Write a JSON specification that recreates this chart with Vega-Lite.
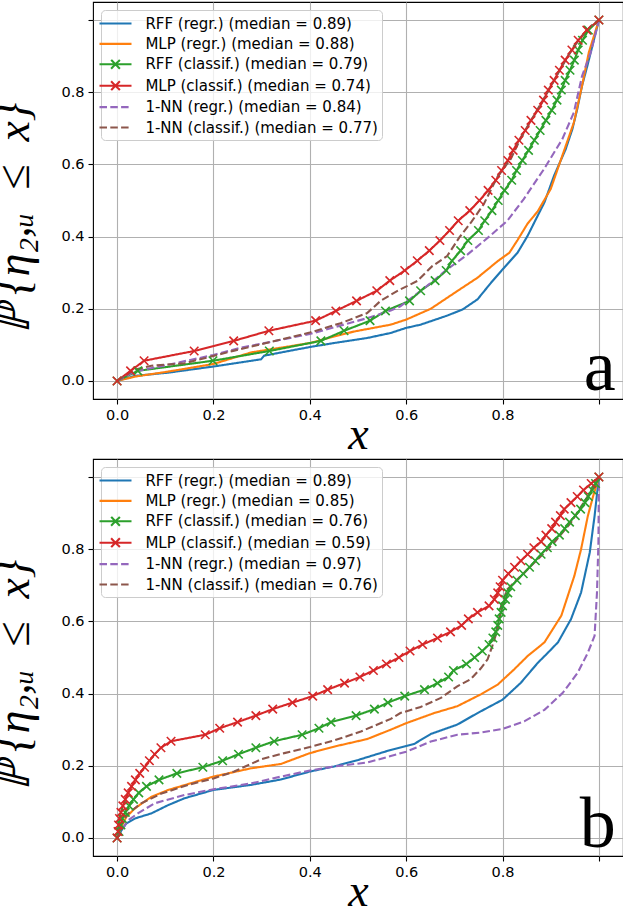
{
  "$schema": "https://vega.github.io/schema/vega-lite/v6.json",
  "background": "white",
  "padding": {"left": -9, "top": 1, "right": 2, "bottom": -7},
  "datasets": {
    "a": [
      {"s": "RFF (regr.) (median = 0.89)", "x": 0, "y": 0},
      {"s": "RFF (regr.) (median = 0.89)", "x": 0.037, "y": 0.014},
      {"s": "RFF (regr.) (median = 0.89)", "x": 0.106, "y": 0.023},
      {"s": "RFF (regr.) (median = 0.89)", "x": 0.2, "y": 0.04},
      {"s": "RFF (regr.) (median = 0.89)", "x": 0.299, "y": 0.06},
      {"s": "RFF (regr.) (median = 0.89)", "x": 0.305, "y": 0.07},
      {"s": "RFF (regr.) (median = 0.89)", "x": 0.4, "y": 0.094},
      {"s": "RFF (regr.) (median = 0.89)", "x": 0.45, "y": 0.105},
      {"s": "RFF (regr.) (median = 0.89)", "x": 0.519, "y": 0.119},
      {"s": "RFF (regr.) (median = 0.89)", "x": 0.568, "y": 0.133},
      {"s": "RFF (regr.) (median = 0.89)", "x": 0.6, "y": 0.147},
      {"s": "RFF (regr.) (median = 0.89)", "x": 0.63, "y": 0.156},
      {"s": "RFF (regr.) (median = 0.89)", "x": 0.685, "y": 0.181},
      {"s": "RFF (regr.) (median = 0.89)", "x": 0.717, "y": 0.198},
      {"s": "RFF (regr.) (median = 0.89)", "x": 0.748, "y": 0.226},
      {"s": "RFF (regr.) (median = 0.89)", "x": 0.776, "y": 0.272},
      {"s": "RFF (regr.) (median = 0.89)", "x": 0.8, "y": 0.309},
      {"s": "RFF (regr.) (median = 0.89)", "x": 0.831, "y": 0.355},
      {"s": "RFF (regr.) (median = 0.89)", "x": 0.852, "y": 0.402},
      {"s": "RFF (regr.) (median = 0.89)", "x": 0.873, "y": 0.458},
      {"s": "RFF (regr.) (median = 0.89)", "x": 0.887, "y": 0.495},
      {"s": "RFF (regr.) (median = 0.89)", "x": 0.907, "y": 0.569},
      {"s": "RFF (regr.) (median = 0.89)", "x": 0.931, "y": 0.642},
      {"s": "RFF (regr.) (median = 0.89)", "x": 0.945, "y": 0.698},
      {"s": "RFF (regr.) (median = 0.89)", "x": 0.955, "y": 0.753},
      {"s": "RFF (regr.) (median = 0.89)", "x": 0.965, "y": 0.818},
      {"s": "RFF (regr.) (median = 0.89)", "x": 0.976, "y": 0.873},
      {"s": "RFF (regr.) (median = 0.89)", "x": 0.99, "y": 0.947},
      {"s": "RFF (regr.) (median = 0.89)", "x": 1, "y": 1},
      {"s": "MLP (regr.) (median = 0.88)", "x": 0, "y": 0},
      {"s": "MLP (regr.) (median = 0.88)", "x": 0.037, "y": 0.012},
      {"s": "MLP (regr.) (median = 0.88)", "x": 0.106, "y": 0.026},
      {"s": "MLP (regr.) (median = 0.88)", "x": 0.2, "y": 0.047},
      {"s": "MLP (regr.) (median = 0.88)", "x": 0.278, "y": 0.079},
      {"s": "MLP (regr.) (median = 0.88)", "x": 0.4, "y": 0.105},
      {"s": "MLP (regr.) (median = 0.88)", "x": 0.45, "y": 0.123},
      {"s": "MLP (regr.) (median = 0.88)", "x": 0.492, "y": 0.137},
      {"s": "MLP (regr.) (median = 0.88)", "x": 0.568, "y": 0.156},
      {"s": "MLP (regr.) (median = 0.88)", "x": 0.6, "y": 0.17},
      {"s": "MLP (regr.) (median = 0.88)", "x": 0.651, "y": 0.2},
      {"s": "MLP (regr.) (median = 0.88)", "x": 0.706, "y": 0.249},
      {"s": "MLP (regr.) (median = 0.88)", "x": 0.748, "y": 0.286},
      {"s": "MLP (regr.) (median = 0.88)", "x": 0.79, "y": 0.332},
      {"s": "MLP (regr.) (median = 0.88)", "x": 0.814, "y": 0.355},
      {"s": "MLP (regr.) (median = 0.88)", "x": 0.831, "y": 0.39},
      {"s": "MLP (regr.) (median = 0.88)", "x": 0.852, "y": 0.436},
      {"s": "MLP (regr.) (median = 0.88)", "x": 0.873, "y": 0.47},
      {"s": "MLP (regr.) (median = 0.88)", "x": 0.9, "y": 0.532},
      {"s": "MLP (regr.) (median = 0.88)", "x": 0.924, "y": 0.624},
      {"s": "MLP (regr.) (median = 0.88)", "x": 0.948, "y": 0.716},
      {"s": "MLP (regr.) (median = 0.88)", "x": 0.965, "y": 0.818},
      {"s": "MLP (regr.) (median = 0.88)", "x": 0.979, "y": 0.91},
      {"s": "MLP (regr.) (median = 0.88)", "x": 1, "y": 1},
      {"s": "RFF (classif.) (median = 0.79)", "x": 0, "y": 0},
      {"s": "RFF (classif.) (median = 0.79)", "x": 0.043, "y": 0.028},
      {"s": "RFF (classif.) (median = 0.79)", "x": 0.199, "y": 0.056},
      {"s": "RFF (classif.) (median = 0.79)", "x": 0.316, "y": 0.083},
      {"s": "RFF (classif.) (median = 0.79)", "x": 0.423, "y": 0.111},
      {"s": "RFF (classif.) (median = 0.79)", "x": 0.471, "y": 0.139},
      {"s": "RFF (classif.) (median = 0.79)", "x": 0.525, "y": 0.167},
      {"s": "RFF (classif.) (median = 0.79)", "x": 0.557, "y": 0.194},
      {"s": "RFF (classif.) (median = 0.79)", "x": 0.607, "y": 0.222},
      {"s": "RFF (classif.) (median = 0.79)", "x": 0.63, "y": 0.25},
      {"s": "RFF (classif.) (median = 0.79)", "x": 0.66, "y": 0.278},
      {"s": "RFF (classif.) (median = 0.79)", "x": 0.683, "y": 0.306},
      {"s": "RFF (classif.) (median = 0.79)", "x": 0.695, "y": 0.333},
      {"s": "RFF (classif.) (median = 0.79)", "x": 0.713, "y": 0.361},
      {"s": "RFF (classif.) (median = 0.79)", "x": 0.728, "y": 0.389},
      {"s": "RFF (classif.) (median = 0.79)", "x": 0.75, "y": 0.417},
      {"s": "RFF (classif.) (median = 0.79)", "x": 0.763, "y": 0.444},
      {"s": "RFF (classif.) (median = 0.79)", "x": 0.778, "y": 0.472},
      {"s": "RFF (classif.) (median = 0.79)", "x": 0.791, "y": 0.5},
      {"s": "RFF (classif.) (median = 0.79)", "x": 0.804, "y": 0.528},
      {"s": "RFF (classif.) (median = 0.79)", "x": 0.819, "y": 0.556},
      {"s": "RFF (classif.) (median = 0.79)", "x": 0.829, "y": 0.583},
      {"s": "RFF (classif.) (median = 0.79)", "x": 0.841, "y": 0.611},
      {"s": "RFF (classif.) (median = 0.79)", "x": 0.854, "y": 0.639},
      {"s": "RFF (classif.) (median = 0.79)", "x": 0.866, "y": 0.667},
      {"s": "RFF (classif.) (median = 0.79)", "x": 0.878, "y": 0.694},
      {"s": "RFF (classif.) (median = 0.79)", "x": 0.89, "y": 0.722},
      {"s": "RFF (classif.) (median = 0.79)", "x": 0.902, "y": 0.75},
      {"s": "RFF (classif.) (median = 0.79)", "x": 0.913, "y": 0.778},
      {"s": "RFF (classif.) (median = 0.79)", "x": 0.922, "y": 0.806},
      {"s": "RFF (classif.) (median = 0.79)", "x": 0.93, "y": 0.833},
      {"s": "RFF (classif.) (median = 0.79)", "x": 0.94, "y": 0.861},
      {"s": "RFF (classif.) (median = 0.79)", "x": 0.949, "y": 0.889},
      {"s": "RFF (classif.) (median = 0.79)", "x": 0.957, "y": 0.917},
      {"s": "RFF (classif.) (median = 0.79)", "x": 0.966, "y": 0.944},
      {"s": "RFF (classif.) (median = 0.79)", "x": 0.978, "y": 0.972},
      {"s": "RFF (classif.) (median = 0.79)", "x": 1, "y": 1},
      {"s": "MLP (classif.) (median = 0.74)", "x": 0, "y": 0},
      {"s": "MLP (classif.) (median = 0.74)", "x": 0.028, "y": 0.028},
      {"s": "MLP (classif.) (median = 0.74)", "x": 0.056, "y": 0.056},
      {"s": "MLP (classif.) (median = 0.74)", "x": 0.16, "y": 0.083},
      {"s": "MLP (classif.) (median = 0.74)", "x": 0.242, "y": 0.111},
      {"s": "MLP (classif.) (median = 0.74)", "x": 0.315, "y": 0.139},
      {"s": "MLP (classif.) (median = 0.74)", "x": 0.412, "y": 0.167},
      {"s": "MLP (classif.) (median = 0.74)", "x": 0.454, "y": 0.194},
      {"s": "MLP (classif.) (median = 0.74)", "x": 0.497, "y": 0.222},
      {"s": "MLP (classif.) (median = 0.74)", "x": 0.539, "y": 0.25},
      {"s": "MLP (classif.) (median = 0.74)", "x": 0.566, "y": 0.278},
      {"s": "MLP (classif.) (median = 0.74)", "x": 0.597, "y": 0.306},
      {"s": "MLP (classif.) (median = 0.74)", "x": 0.623, "y": 0.333},
      {"s": "MLP (classif.) (median = 0.74)", "x": 0.648, "y": 0.361},
      {"s": "MLP (classif.) (median = 0.74)", "x": 0.67, "y": 0.389},
      {"s": "MLP (classif.) (median = 0.74)", "x": 0.69, "y": 0.417},
      {"s": "MLP (classif.) (median = 0.74)", "x": 0.708, "y": 0.444},
      {"s": "MLP (classif.) (median = 0.74)", "x": 0.732, "y": 0.472},
      {"s": "MLP (classif.) (median = 0.74)", "x": 0.752, "y": 0.5},
      {"s": "MLP (classif.) (median = 0.74)", "x": 0.77, "y": 0.528},
      {"s": "MLP (classif.) (median = 0.74)", "x": 0.786, "y": 0.556},
      {"s": "MLP (classif.) (median = 0.74)", "x": 0.798, "y": 0.583},
      {"s": "MLP (classif.) (median = 0.74)", "x": 0.811, "y": 0.611},
      {"s": "MLP (classif.) (median = 0.74)", "x": 0.822, "y": 0.639},
      {"s": "MLP (classif.) (median = 0.74)", "x": 0.834, "y": 0.667},
      {"s": "MLP (classif.) (median = 0.74)", "x": 0.847, "y": 0.694},
      {"s": "MLP (classif.) (median = 0.74)", "x": 0.859, "y": 0.722},
      {"s": "MLP (classif.) (median = 0.74)", "x": 0.873, "y": 0.75},
      {"s": "MLP (classif.) (median = 0.74)", "x": 0.885, "y": 0.778},
      {"s": "MLP (classif.) (median = 0.74)", "x": 0.895, "y": 0.806},
      {"s": "MLP (classif.) (median = 0.74)", "x": 0.907, "y": 0.833},
      {"s": "MLP (classif.) (median = 0.74)", "x": 0.918, "y": 0.861},
      {"s": "MLP (classif.) (median = 0.74)", "x": 0.93, "y": 0.889},
      {"s": "MLP (classif.) (median = 0.74)", "x": 0.944, "y": 0.917},
      {"s": "MLP (classif.) (median = 0.74)", "x": 0.957, "y": 0.944},
      {"s": "MLP (classif.) (median = 0.74)", "x": 0.975, "y": 0.972},
      {"s": "MLP (classif.) (median = 0.74)", "x": 1, "y": 1},
      {"s": "1-NN (regr.) (median = 0.84)", "x": 0, "y": 0},
      {"s": "1-NN (regr.) (median = 0.84)", "x": 0.037, "y": 0.026},
      {"s": "1-NN (regr.) (median = 0.84)", "x": 0.106, "y": 0.045},
      {"s": "1-NN (regr.) (median = 0.84)", "x": 0.2, "y": 0.072},
      {"s": "1-NN (regr.) (median = 0.84)", "x": 0.257, "y": 0.092},
      {"s": "1-NN (regr.) (median = 0.84)", "x": 0.4, "y": 0.13},
      {"s": "1-NN (regr.) (median = 0.84)", "x": 0.519, "y": 0.174},
      {"s": "1-NN (regr.) (median = 0.84)", "x": 0.568, "y": 0.195},
      {"s": "1-NN (regr.) (median = 0.84)", "x": 0.588, "y": 0.207},
      {"s": "1-NN (regr.) (median = 0.84)", "x": 0.63, "y": 0.249},
      {"s": "1-NN (regr.) (median = 0.84)", "x": 0.685, "y": 0.309},
      {"s": "1-NN (regr.) (median = 0.84)", "x": 0.727, "y": 0.35},
      {"s": "1-NN (regr.) (median = 0.84)", "x": 0.775, "y": 0.403},
      {"s": "1-NN (regr.) (median = 0.84)", "x": 0.81, "y": 0.444},
      {"s": "1-NN (regr.) (median = 0.84)", "x": 0.844, "y": 0.504},
      {"s": "1-NN (regr.) (median = 0.84)", "x": 0.886, "y": 0.587},
      {"s": "1-NN (regr.) (median = 0.84)", "x": 0.924, "y": 0.67},
      {"s": "1-NN (regr.) (median = 0.84)", "x": 0.948, "y": 0.744},
      {"s": "1-NN (regr.) (median = 0.84)", "x": 0.965, "y": 0.845},
      {"s": "1-NN (regr.) (median = 0.84)", "x": 0.983, "y": 0.91},
      {"s": "1-NN (regr.) (median = 0.84)", "x": 1, "y": 1},
      {"s": "1-NN (classif.) (median = 0.77)", "x": 0, "y": 0},
      {"s": "1-NN (classif.) (median = 0.77)", "x": 0.037, "y": 0.031},
      {"s": "1-NN (classif.) (median = 0.77)", "x": 0.071, "y": 0.042},
      {"s": "1-NN (classif.) (median = 0.77)", "x": 0.14, "y": 0.049},
      {"s": "1-NN (classif.) (median = 0.77)", "x": 0.243, "y": 0.084},
      {"s": "1-NN (classif.) (median = 0.77)", "x": 0.4, "y": 0.134},
      {"s": "1-NN (classif.) (median = 0.77)", "x": 0.464, "y": 0.16},
      {"s": "1-NN (classif.) (median = 0.77)", "x": 0.519, "y": 0.188},
      {"s": "1-NN (classif.) (median = 0.77)", "x": 0.547, "y": 0.222},
      {"s": "1-NN (classif.) (median = 0.77)", "x": 0.581, "y": 0.249},
      {"s": "1-NN (classif.) (median = 0.77)", "x": 0.623, "y": 0.277},
      {"s": "1-NN (classif.) (median = 0.77)", "x": 0.654, "y": 0.318},
      {"s": "1-NN (classif.) (median = 0.77)", "x": 0.685, "y": 0.346},
      {"s": "1-NN (classif.) (median = 0.77)", "x": 0.71, "y": 0.397},
      {"s": "1-NN (classif.) (median = 0.77)", "x": 0.735, "y": 0.44},
      {"s": "1-NN (classif.) (median = 0.77)", "x": 0.761, "y": 0.49},
      {"s": "1-NN (classif.) (median = 0.77)", "x": 0.789, "y": 0.565},
      {"s": "1-NN (classif.) (median = 0.77)", "x": 0.817, "y": 0.615},
      {"s": "1-NN (classif.) (median = 0.77)", "x": 0.837, "y": 0.67},
      {"s": "1-NN (classif.) (median = 0.77)", "x": 0.865, "y": 0.735},
      {"s": "1-NN (classif.) (median = 0.77)", "x": 0.893, "y": 0.799},
      {"s": "1-NN (classif.) (median = 0.77)", "x": 0.92, "y": 0.864},
      {"s": "1-NN (classif.) (median = 0.77)", "x": 0.948, "y": 0.928},
      {"s": "1-NN (classif.) (median = 0.77)", "x": 0.983, "y": 0.983},
      {"s": "1-NN (classif.) (median = 0.77)", "x": 1, "y": 1}
    ],
    "b": [
      {"s": "RFF (regr.) (median = 0.89)", "x": 0, "y": 0},
      {"s": "RFF (regr.) (median = 0.89)", "x": 0.009, "y": 0.021},
      {"s": "RFF (regr.) (median = 0.89)", "x": 0.019, "y": 0.04},
      {"s": "RFF (regr.) (median = 0.89)", "x": 0.037, "y": 0.054},
      {"s": "RFF (regr.) (median = 0.89)", "x": 0.071, "y": 0.068},
      {"s": "RFF (regr.) (median = 0.89)", "x": 0.106, "y": 0.091},
      {"s": "RFF (regr.) (median = 0.89)", "x": 0.14, "y": 0.11},
      {"s": "RFF (regr.) (median = 0.89)", "x": 0.2, "y": 0.133},
      {"s": "RFF (regr.) (median = 0.89)", "x": 0.278, "y": 0.147},
      {"s": "RFF (regr.) (median = 0.89)", "x": 0.34, "y": 0.162},
      {"s": "RFF (regr.) (median = 0.89)", "x": 0.4, "y": 0.184},
      {"s": "RFF (regr.) (median = 0.89)", "x": 0.45, "y": 0.198},
      {"s": "RFF (regr.) (median = 0.89)", "x": 0.5, "y": 0.216},
      {"s": "RFF (regr.) (median = 0.89)", "x": 0.568, "y": 0.244},
      {"s": "RFF (regr.) (median = 0.89)", "x": 0.6, "y": 0.255},
      {"s": "RFF (regr.) (median = 0.89)", "x": 0.616, "y": 0.26},
      {"s": "RFF (regr.) (median = 0.89)", "x": 0.651, "y": 0.288},
      {"s": "RFF (regr.) (median = 0.89)", "x": 0.706, "y": 0.314},
      {"s": "RFF (regr.) (median = 0.89)", "x": 0.748, "y": 0.346},
      {"s": "RFF (regr.) (median = 0.89)", "x": 0.8, "y": 0.383},
      {"s": "RFF (regr.) (median = 0.89)", "x": 0.838, "y": 0.43},
      {"s": "RFF (regr.) (median = 0.89)", "x": 0.873, "y": 0.485},
      {"s": "RFF (regr.) (median = 0.89)", "x": 0.894, "y": 0.513},
      {"s": "RFF (regr.) (median = 0.89)", "x": 0.915, "y": 0.542},
      {"s": "RFF (regr.) (median = 0.89)", "x": 0.942, "y": 0.606},
      {"s": "RFF (regr.) (median = 0.89)", "x": 0.963, "y": 0.68},
      {"s": "RFF (regr.) (median = 0.89)", "x": 0.981, "y": 0.791},
      {"s": "RFF (regr.) (median = 0.89)", "x": 0.991, "y": 0.892},
      {"s": "RFF (regr.) (median = 0.89)", "x": 1, "y": 1},
      {"s": "MLP (regr.) (median = 0.85)", "x": 0, "y": 0},
      {"s": "MLP (regr.) (median = 0.85)", "x": 0.009, "y": 0.031},
      {"s": "MLP (regr.) (median = 0.85)", "x": 0.019, "y": 0.058},
      {"s": "MLP (regr.) (median = 0.85)", "x": 0.037, "y": 0.082},
      {"s": "MLP (regr.) (median = 0.85)", "x": 0.071, "y": 0.114},
      {"s": "MLP (regr.) (median = 0.85)", "x": 0.106, "y": 0.133},
      {"s": "MLP (regr.) (median = 0.85)", "x": 0.2, "y": 0.17},
      {"s": "MLP (regr.) (median = 0.85)", "x": 0.278, "y": 0.193},
      {"s": "MLP (regr.) (median = 0.85)", "x": 0.34, "y": 0.205},
      {"s": "MLP (regr.) (median = 0.85)", "x": 0.4, "y": 0.235},
      {"s": "MLP (regr.) (median = 0.85)", "x": 0.45, "y": 0.253},
      {"s": "MLP (regr.) (median = 0.85)", "x": 0.519, "y": 0.274},
      {"s": "MLP (regr.) (median = 0.85)", "x": 0.568, "y": 0.3},
      {"s": "MLP (regr.) (median = 0.85)", "x": 0.6, "y": 0.318},
      {"s": "MLP (regr.) (median = 0.85)", "x": 0.658, "y": 0.346},
      {"s": "MLP (regr.) (median = 0.85)", "x": 0.706, "y": 0.365},
      {"s": "MLP (regr.) (median = 0.85)", "x": 0.755, "y": 0.398},
      {"s": "MLP (regr.) (median = 0.85)", "x": 0.79, "y": 0.425},
      {"s": "MLP (regr.) (median = 0.85)", "x": 0.824, "y": 0.467},
      {"s": "MLP (regr.) (median = 0.85)", "x": 0.852, "y": 0.504},
      {"s": "MLP (regr.) (median = 0.85)", "x": 0.887, "y": 0.542},
      {"s": "MLP (regr.) (median = 0.85)", "x": 0.922, "y": 0.616},
      {"s": "MLP (regr.) (median = 0.85)", "x": 0.949, "y": 0.726},
      {"s": "MLP (regr.) (median = 0.85)", "x": 0.963, "y": 0.8},
      {"s": "MLP (regr.) (median = 0.85)", "x": 0.977, "y": 0.892},
      {"s": "MLP (regr.) (median = 0.85)", "x": 0.988, "y": 0.947},
      {"s": "MLP (regr.) (median = 0.85)", "x": 1, "y": 1},
      {"s": "RFF (classif.) (median = 0.76)", "x": 0, "y": 0},
      {"s": "RFF (classif.) (median = 0.76)", "x": 0.004, "y": 0.018},
      {"s": "RFF (classif.) (median = 0.76)", "x": 0.008, "y": 0.036},
      {"s": "RFF (classif.) (median = 0.76)", "x": 0.011, "y": 0.054},
      {"s": "RFF (classif.) (median = 0.76)", "x": 0.017, "y": 0.071},
      {"s": "RFF (classif.) (median = 0.76)", "x": 0.025, "y": 0.089},
      {"s": "RFF (classif.) (median = 0.76)", "x": 0.034, "y": 0.107},
      {"s": "RFF (classif.) (median = 0.76)", "x": 0.045, "y": 0.125},
      {"s": "RFF (classif.) (median = 0.76)", "x": 0.061, "y": 0.143},
      {"s": "RFF (classif.) (median = 0.76)", "x": 0.087, "y": 0.161},
      {"s": "RFF (classif.) (median = 0.76)", "x": 0.124, "y": 0.179},
      {"s": "RFF (classif.) (median = 0.76)", "x": 0.178, "y": 0.196},
      {"s": "RFF (classif.) (median = 0.76)", "x": 0.219, "y": 0.214},
      {"s": "RFF (classif.) (median = 0.76)", "x": 0.252, "y": 0.232},
      {"s": "RFF (classif.) (median = 0.76)", "x": 0.288, "y": 0.25},
      {"s": "RFF (classif.) (median = 0.76)", "x": 0.326, "y": 0.268},
      {"s": "RFF (classif.) (median = 0.76)", "x": 0.384, "y": 0.286},
      {"s": "RFF (classif.) (median = 0.76)", "x": 0.419, "y": 0.304},
      {"s": "RFF (classif.) (median = 0.76)", "x": 0.444, "y": 0.321},
      {"s": "RFF (classif.) (median = 0.76)", "x": 0.496, "y": 0.339},
      {"s": "RFF (classif.) (median = 0.76)", "x": 0.534, "y": 0.357},
      {"s": "RFF (classif.) (median = 0.76)", "x": 0.562, "y": 0.375},
      {"s": "RFF (classif.) (median = 0.76)", "x": 0.597, "y": 0.393},
      {"s": "RFF (classif.) (median = 0.76)", "x": 0.638, "y": 0.411},
      {"s": "RFF (classif.) (median = 0.76)", "x": 0.665, "y": 0.429},
      {"s": "RFF (classif.) (median = 0.76)", "x": 0.688, "y": 0.446},
      {"s": "RFF (classif.) (median = 0.76)", "x": 0.698, "y": 0.464},
      {"s": "RFF (classif.) (median = 0.76)", "x": 0.725, "y": 0.482},
      {"s": "RFF (classif.) (median = 0.76)", "x": 0.742, "y": 0.5},
      {"s": "RFF (classif.) (median = 0.76)", "x": 0.758, "y": 0.518},
      {"s": "RFF (classif.) (median = 0.76)", "x": 0.772, "y": 0.536},
      {"s": "RFF (classif.) (median = 0.76)", "x": 0.78, "y": 0.554},
      {"s": "RFF (classif.) (median = 0.76)", "x": 0.786, "y": 0.571},
      {"s": "RFF (classif.) (median = 0.76)", "x": 0.79, "y": 0.589},
      {"s": "RFF (classif.) (median = 0.76)", "x": 0.793, "y": 0.607},
      {"s": "RFF (classif.) (median = 0.76)", "x": 0.797, "y": 0.625},
      {"s": "RFF (classif.) (median = 0.76)", "x": 0.8, "y": 0.643},
      {"s": "RFF (classif.) (median = 0.76)", "x": 0.806, "y": 0.661},
      {"s": "RFF (classif.) (median = 0.76)", "x": 0.811, "y": 0.679},
      {"s": "RFF (classif.) (median = 0.76)", "x": 0.817, "y": 0.696},
      {"s": "RFF (classif.) (median = 0.76)", "x": 0.83, "y": 0.714},
      {"s": "RFF (classif.) (median = 0.76)", "x": 0.843, "y": 0.732},
      {"s": "RFF (classif.) (median = 0.76)", "x": 0.856, "y": 0.75},
      {"s": "RFF (classif.) (median = 0.76)", "x": 0.868, "y": 0.768},
      {"s": "RFF (classif.) (median = 0.76)", "x": 0.88, "y": 0.786},
      {"s": "RFF (classif.) (median = 0.76)", "x": 0.893, "y": 0.804},
      {"s": "RFF (classif.) (median = 0.76)", "x": 0.903, "y": 0.821},
      {"s": "RFF (classif.) (median = 0.76)", "x": 0.918, "y": 0.839},
      {"s": "RFF (classif.) (median = 0.76)", "x": 0.929, "y": 0.857},
      {"s": "RFF (classif.) (median = 0.76)", "x": 0.939, "y": 0.875},
      {"s": "RFF (classif.) (median = 0.76)", "x": 0.951, "y": 0.893},
      {"s": "RFF (classif.) (median = 0.76)", "x": 0.962, "y": 0.911},
      {"s": "RFF (classif.) (median = 0.76)", "x": 0.971, "y": 0.929},
      {"s": "RFF (classif.) (median = 0.76)", "x": 0.978, "y": 0.946},
      {"s": "RFF (classif.) (median = 0.76)", "x": 0.986, "y": 0.964},
      {"s": "RFF (classif.) (median = 0.76)", "x": 0.993, "y": 0.982},
      {"s": "RFF (classif.) (median = 0.76)", "x": 1, "y": 1},
      {"s": "MLP (classif.) (median = 0.59)", "x": 0, "y": 0},
      {"s": "MLP (classif.) (median = 0.59)", "x": 0.002, "y": 0.018},
      {"s": "MLP (classif.) (median = 0.59)", "x": 0.003, "y": 0.036},
      {"s": "MLP (classif.) (median = 0.59)", "x": 0.005, "y": 0.054},
      {"s": "MLP (classif.) (median = 0.59)", "x": 0.008, "y": 0.071},
      {"s": "MLP (classif.) (median = 0.59)", "x": 0.012, "y": 0.089},
      {"s": "MLP (classif.) (median = 0.59)", "x": 0.017, "y": 0.107},
      {"s": "MLP (classif.) (median = 0.59)", "x": 0.023, "y": 0.125},
      {"s": "MLP (classif.) (median = 0.59)", "x": 0.03, "y": 0.143},
      {"s": "MLP (classif.) (median = 0.59)", "x": 0.038, "y": 0.161},
      {"s": "MLP (classif.) (median = 0.59)", "x": 0.047, "y": 0.179},
      {"s": "MLP (classif.) (median = 0.59)", "x": 0.057, "y": 0.196},
      {"s": "MLP (classif.) (median = 0.59)", "x": 0.067, "y": 0.214},
      {"s": "MLP (classif.) (median = 0.59)", "x": 0.078, "y": 0.232},
      {"s": "MLP (classif.) (median = 0.59)", "x": 0.091, "y": 0.25},
      {"s": "MLP (classif.) (median = 0.59)", "x": 0.112, "y": 0.268},
      {"s": "MLP (classif.) (median = 0.59)", "x": 0.183, "y": 0.286},
      {"s": "MLP (classif.) (median = 0.59)", "x": 0.213, "y": 0.304},
      {"s": "MLP (classif.) (median = 0.59)", "x": 0.25, "y": 0.321},
      {"s": "MLP (classif.) (median = 0.59)", "x": 0.288, "y": 0.339},
      {"s": "MLP (classif.) (median = 0.59)", "x": 0.323, "y": 0.357},
      {"s": "MLP (classif.) (median = 0.59)", "x": 0.364, "y": 0.375},
      {"s": "MLP (classif.) (median = 0.59)", "x": 0.406, "y": 0.393},
      {"s": "MLP (classif.) (median = 0.59)", "x": 0.437, "y": 0.411},
      {"s": "MLP (classif.) (median = 0.59)", "x": 0.472, "y": 0.429},
      {"s": "MLP (classif.) (median = 0.59)", "x": 0.504, "y": 0.446},
      {"s": "MLP (classif.) (median = 0.59)", "x": 0.532, "y": 0.464},
      {"s": "MLP (classif.) (median = 0.59)", "x": 0.559, "y": 0.482},
      {"s": "MLP (classif.) (median = 0.59)", "x": 0.585, "y": 0.5},
      {"s": "MLP (classif.) (median = 0.59)", "x": 0.608, "y": 0.518},
      {"s": "MLP (classif.) (median = 0.59)", "x": 0.634, "y": 0.536},
      {"s": "MLP (classif.) (median = 0.59)", "x": 0.665, "y": 0.554},
      {"s": "MLP (classif.) (median = 0.59)", "x": 0.692, "y": 0.571},
      {"s": "MLP (classif.) (median = 0.59)", "x": 0.715, "y": 0.589},
      {"s": "MLP (classif.) (median = 0.59)", "x": 0.729, "y": 0.607},
      {"s": "MLP (classif.) (median = 0.59)", "x": 0.748, "y": 0.625},
      {"s": "MLP (classif.) (median = 0.59)", "x": 0.772, "y": 0.643},
      {"s": "MLP (classif.) (median = 0.59)", "x": 0.783, "y": 0.661},
      {"s": "MLP (classif.) (median = 0.59)", "x": 0.79, "y": 0.679},
      {"s": "MLP (classif.) (median = 0.59)", "x": 0.795, "y": 0.696},
      {"s": "MLP (classif.) (median = 0.59)", "x": 0.8, "y": 0.714},
      {"s": "MLP (classif.) (median = 0.59)", "x": 0.812, "y": 0.732},
      {"s": "MLP (classif.) (median = 0.59)", "x": 0.825, "y": 0.75},
      {"s": "MLP (classif.) (median = 0.59)", "x": 0.838, "y": 0.768},
      {"s": "MLP (classif.) (median = 0.59)", "x": 0.852, "y": 0.786},
      {"s": "MLP (classif.) (median = 0.59)", "x": 0.865, "y": 0.804},
      {"s": "MLP (classif.) (median = 0.59)", "x": 0.88, "y": 0.821},
      {"s": "MLP (classif.) (median = 0.59)", "x": 0.89, "y": 0.839},
      {"s": "MLP (classif.) (median = 0.59)", "x": 0.902, "y": 0.857},
      {"s": "MLP (classif.) (median = 0.59)", "x": 0.91, "y": 0.875},
      {"s": "MLP (classif.) (median = 0.59)", "x": 0.92, "y": 0.893},
      {"s": "MLP (classif.) (median = 0.59)", "x": 0.928, "y": 0.911},
      {"s": "MLP (classif.) (median = 0.59)", "x": 0.942, "y": 0.929},
      {"s": "MLP (classif.) (median = 0.59)", "x": 0.955, "y": 0.946},
      {"s": "MLP (classif.) (median = 0.59)", "x": 0.968, "y": 0.964},
      {"s": "MLP (classif.) (median = 0.59)", "x": 0.984, "y": 0.982},
      {"s": "MLP (classif.) (median = 0.59)", "x": 1, "y": 1},
      {"s": "1-NN (regr.) (median = 0.97)", "x": 0, "y": 0},
      {"s": "1-NN (regr.) (median = 0.97)", "x": 0.009, "y": 0.021},
      {"s": "1-NN (regr.) (median = 0.97)", "x": 0.023, "y": 0.049},
      {"s": "1-NN (regr.) (median = 0.97)", "x": 0.043, "y": 0.068},
      {"s": "1-NN (regr.) (median = 0.97)", "x": 0.078, "y": 0.096},
      {"s": "1-NN (regr.) (median = 0.97)", "x": 0.14, "y": 0.119},
      {"s": "1-NN (regr.) (median = 0.97)", "x": 0.2, "y": 0.135},
      {"s": "1-NN (regr.) (median = 0.97)", "x": 0.278, "y": 0.151},
      {"s": "1-NN (regr.) (median = 0.97)", "x": 0.34, "y": 0.17},
      {"s": "1-NN (regr.) (median = 0.97)", "x": 0.4, "y": 0.187},
      {"s": "1-NN (regr.) (median = 0.97)", "x": 0.45, "y": 0.198},
      {"s": "1-NN (regr.) (median = 0.97)", "x": 0.519, "y": 0.209},
      {"s": "1-NN (regr.) (median = 0.97)", "x": 0.568, "y": 0.227},
      {"s": "1-NN (regr.) (median = 0.97)", "x": 0.6, "y": 0.239},
      {"s": "1-NN (regr.) (median = 0.97)", "x": 0.651, "y": 0.267},
      {"s": "1-NN (regr.) (median = 0.97)", "x": 0.706, "y": 0.286},
      {"s": "1-NN (regr.) (median = 0.97)", "x": 0.755, "y": 0.292},
      {"s": "1-NN (regr.) (median = 0.97)", "x": 0.8, "y": 0.302},
      {"s": "1-NN (regr.) (median = 0.97)", "x": 0.845, "y": 0.323},
      {"s": "1-NN (regr.) (median = 0.97)", "x": 0.887, "y": 0.355},
      {"s": "1-NN (regr.) (median = 0.97)", "x": 0.925, "y": 0.402},
      {"s": "1-NN (regr.) (median = 0.97)", "x": 0.956, "y": 0.458},
      {"s": "1-NN (regr.) (median = 0.97)", "x": 0.977, "y": 0.513},
      {"s": "1-NN (regr.) (median = 0.97)", "x": 0.991, "y": 0.56},
      {"s": "1-NN (regr.) (median = 0.97)", "x": 0.996, "y": 0.68},
      {"s": "1-NN (regr.) (median = 0.97)", "x": 0.999, "y": 0.82},
      {"s": "1-NN (regr.) (median = 0.97)", "x": 1, "y": 1},
      {"s": "1-NN (classif.) (median = 0.76)", "x": 0, "y": 0},
      {"s": "1-NN (classif.) (median = 0.76)", "x": 0.009, "y": 0.04},
      {"s": "1-NN (classif.) (median = 0.76)", "x": 0.023, "y": 0.068},
      {"s": "1-NN (classif.) (median = 0.76)", "x": 0.05, "y": 0.096},
      {"s": "1-NN (classif.) (median = 0.76)", "x": 0.092, "y": 0.123},
      {"s": "1-NN (classif.) (median = 0.76)", "x": 0.147, "y": 0.147},
      {"s": "1-NN (classif.) (median = 0.76)", "x": 0.2, "y": 0.165},
      {"s": "1-NN (classif.) (median = 0.76)", "x": 0.243, "y": 0.184},
      {"s": "1-NN (classif.) (median = 0.76)", "x": 0.299, "y": 0.218},
      {"s": "1-NN (classif.) (median = 0.76)", "x": 0.347, "y": 0.235},
      {"s": "1-NN (classif.) (median = 0.76)", "x": 0.4, "y": 0.252},
      {"s": "1-NN (classif.) (median = 0.76)", "x": 0.45, "y": 0.27},
      {"s": "1-NN (classif.) (median = 0.76)", "x": 0.506, "y": 0.295},
      {"s": "1-NN (classif.) (median = 0.76)", "x": 0.568, "y": 0.33},
      {"s": "1-NN (classif.) (median = 0.76)", "x": 0.588, "y": 0.346},
      {"s": "1-NN (classif.) (median = 0.76)", "x": 0.63, "y": 0.363},
      {"s": "1-NN (classif.) (median = 0.76)", "x": 0.672, "y": 0.388},
      {"s": "1-NN (classif.) (median = 0.76)", "x": 0.706, "y": 0.42},
      {"s": "1-NN (classif.) (median = 0.76)", "x": 0.734, "y": 0.44},
      {"s": "1-NN (classif.) (median = 0.76)", "x": 0.755, "y": 0.47},
      {"s": "1-NN (classif.) (median = 0.76)", "x": 0.769, "y": 0.495},
      {"s": "1-NN (classif.) (median = 0.76)", "x": 0.779, "y": 0.533},
      {"s": "1-NN (classif.) (median = 0.76)", "x": 0.79, "y": 0.579},
      {"s": "1-NN (classif.) (median = 0.76)", "x": 0.797, "y": 0.643},
      {"s": "1-NN (classif.) (median = 0.76)", "x": 0.81, "y": 0.689},
      {"s": "1-NN (classif.) (median = 0.76)", "x": 0.838, "y": 0.726},
      {"s": "1-NN (classif.) (median = 0.76)", "x": 0.873, "y": 0.772},
      {"s": "1-NN (classif.) (median = 0.76)", "x": 0.907, "y": 0.818},
      {"s": "1-NN (classif.) (median = 0.76)", "x": 0.942, "y": 0.874},
      {"s": "1-NN (classif.) (median = 0.76)", "x": 0.977, "y": 0.947},
      {"s": "1-NN (classif.) (median = 0.76)", "x": 1, "y": 1}
    ]
  },
  "vconcat": [
    {
      "width": 530,
      "height": 397,
      "data": {"name": "a"},
      "layer": [
        {
          "mark": {"type": "line", "strokeWidth": 2.1},
          "encoding": {
            "x": {"field": "x", "type": "quantitative", "scale": {"domain": [-0.05, 1.05], "nice": false, "zero": false},
              "axis": {"values": [0, 0.2, 0.4, 0.6, 0.8, 1], "labelExpr": "datum.value > 0.9 ? '' : format(datum.value, '.1f')", "title": "x", "titlePadding": -9}},
            "y": {"field": "y", "type": "quantitative", "scale": {"domain": [-0.05, 1.05], "nice": false, "zero": false},
              "axis": {"values": [0, 0.2, 0.4, 0.6, 0.8, 1], "labelExpr": "datum.value > 0.9 ? '' : format(datum.value, '.1f')", "title": "ℙ\u2009{η₂,ᵤ\u2002≤\u2002x}", "titlePadding": 22, "titleY": 216, "titleFontSize": 46}},
            "order": {"field": "y", "type": "quantitative"},
            "color": {"field": "s", "type": "nominal", "legend": {"title": null},
              "scale": {"domain": ["RFF (regr.) (median = 0.89)", "MLP (regr.) (median = 0.88)", "RFF (classif.) (median = 0.79)", "MLP (classif.) (median = 0.74)", "1-NN (regr.) (median = 0.84)", "1-NN (classif.) (median = 0.77)"],
                "range": ["#1f77b4", "#ff7f0e", "#2ca02c", "#d62728", "#9467bd", "#8c564b"]}},
            "strokeDash": {"field": "s", "type": "nominal", "legend": {"title": null},
              "scale": {"domain": ["RFF (regr.) (median = 0.89)", "MLP (regr.) (median = 0.88)", "RFF (classif.) (median = 0.79)", "MLP (classif.) (median = 0.74)", "1-NN (regr.) (median = 0.84)", "1-NN (classif.) (median = 0.77)"],
                "range": [[1, 0], [1, 0], [1, 0], [1, 0], [7.5, 3.3], [7.5, 3.3]]}}
          }
        },
        {
          "transform": [{"filter": "indexof(datum.s, 'classif') >= 0 && indexof(datum.s, '1-NN') < 0"}],
          "mark": {"type": "point", "shape": "M-1,-1L1,1M-1,1L1,-1", "filled": false, "size": 72, "strokeWidth": 1.6, "opacity": 1},
          "encoding": {
            "x": {"field": "x", "type": "quantitative"},
            "y": {"field": "y", "type": "quantitative"},
            "color": {"field": "s", "type": "nominal", "legend": {"title": null}}
          }
        },
        {
          "transform": [{"filter": "datum.x > 5"}],
          "mark": {"type": "point", "filled": false, "strokeWidth": 2.1},
          "encoding": {
            "x": {"field": "x", "type": "quantitative"},
            "y": {"field": "y", "type": "quantitative"},
            "color": {"field": "s", "type": "nominal", "legend": {"title": null}},
            "strokeDash": {"field": "s", "type": "nominal", "legend": {"title": null}},
            "shape": {"field": "s", "type": "nominal", "legend": {"title": null},
              "scale": {"domain": ["RFF (regr.) (median = 0.89)", "MLP (regr.) (median = 0.88)", "RFF (classif.) (median = 0.79)", "MLP (classif.) (median = 0.74)", "1-NN (regr.) (median = 0.84)", "1-NN (classif.) (median = 0.77)"],
                "range": ["M-2,0H2", "M-2,0H2", "M-2,0H2M-0.55,-0.55L0.55,0.55M-0.55,0.55L0.55,-0.55", "M-2,0H2M-0.55,-0.55L0.55,0.55M-0.55,0.55L0.55,-0.55", "M-2,0H2", "M-2,0H2"]}}
          }
        },
        {
          "data": {"values": [{"t": "a"}]},
          "mark": {"type": "text", "font": "Liberation Serif", "fontSize": 72, "align": "right", "baseline": "alphabetic", "color": "black"},
          "encoding": {
            "x": {"datum": 1.035},
            "y": {"datum": -0.025},
            "text": {"field": "t"}
          }
        }
      ]
    },
    {
      "width": 530,
      "height": 397,
      "data": {"name": "b"},
      "layer": [
        {
          "mark": {"type": "line", "strokeWidth": 2.1},
          "encoding": {
            "x": {"field": "x", "type": "quantitative", "scale": {"domain": [-0.05, 1.05], "nice": false, "zero": false},
              "axis": {"values": [0, 0.2, 0.4, 0.6, 0.8, 1], "labelExpr": "datum.value > 0.9 ? '' : format(datum.value, '.1f')", "title": "x", "titlePadding": -9}},
            "y": {"field": "y", "type": "quantitative", "scale": {"domain": [-0.05, 1.05], "nice": false, "zero": false},
              "axis": {"values": [0, 0.2, 0.4, 0.6, 0.8, 1], "labelExpr": "datum.value > 0.9 ? '' : format(datum.value, '.1f')", "title": "ℙ\u2009{η₂,ᵤ\u2002≤\u2002x}", "titlePadding": 22, "titleY": 216, "titleFontSize": 46}},
            "order": {"field": "y", "type": "quantitative"},
            "color": {"field": "s", "type": "nominal", "legend": {"title": null},
              "scale": {"domain": ["RFF (regr.) (median = 0.89)", "MLP (regr.) (median = 0.85)", "RFF (classif.) (median = 0.76)", "MLP (classif.) (median = 0.59)", "1-NN (regr.) (median = 0.97)", "1-NN (classif.) (median = 0.76)"],
                "range": ["#1f77b4", "#ff7f0e", "#2ca02c", "#d62728", "#9467bd", "#8c564b"]}},
            "strokeDash": {"field": "s", "type": "nominal", "legend": {"title": null},
              "scale": {"domain": ["RFF (regr.) (median = 0.89)", "MLP (regr.) (median = 0.85)", "RFF (classif.) (median = 0.76)", "MLP (classif.) (median = 0.59)", "1-NN (regr.) (median = 0.97)", "1-NN (classif.) (median = 0.76)"],
                "range": [[1, 0], [1, 0], [1, 0], [1, 0], [7.5, 3.3], [7.5, 3.3]]}}
          }
        },
        {
          "transform": [{"filter": "indexof(datum.s, 'classif') >= 0 && indexof(datum.s, '1-NN') < 0"}],
          "mark": {"type": "point", "shape": "M-1,-1L1,1M-1,1L1,-1", "filled": false, "size": 72, "strokeWidth": 1.6, "opacity": 1},
          "encoding": {
            "x": {"field": "x", "type": "quantitative"},
            "y": {"field": "y", "type": "quantitative"},
            "color": {"field": "s", "type": "nominal", "legend": {"title": null}}
          }
        },
        {
          "transform": [{"filter": "datum.x > 5"}],
          "mark": {"type": "point", "filled": false, "strokeWidth": 2.1},
          "encoding": {
            "x": {"field": "x", "type": "quantitative"},
            "y": {"field": "y", "type": "quantitative"},
            "color": {"field": "s", "type": "nominal", "legend": {"title": null}},
            "strokeDash": {"field": "s", "type": "nominal", "legend": {"title": null}},
            "shape": {"field": "s", "type": "nominal", "legend": {"title": null},
              "scale": {"domain": ["RFF (regr.) (median = 0.89)", "MLP (regr.) (median = 0.85)", "RFF (classif.) (median = 0.76)", "MLP (classif.) (median = 0.59)", "1-NN (regr.) (median = 0.97)", "1-NN (classif.) (median = 0.76)"],
                "range": ["M-2,0H2", "M-2,0H2", "M-2,0H2M-0.55,-0.55L0.55,0.55M-0.55,0.55L0.55,-0.55", "M-2,0H2M-0.55,-0.55L0.55,0.55M-0.55,0.55L0.55,-0.55", "M-2,0H2", "M-2,0H2"]}}
          }
        },
        {
          "data": {"values": [{"t": "b"}]},
          "mark": {"type": "text", "font": "Liberation Serif", "fontSize": 72, "align": "right", "baseline": "alphabetic", "color": "black"},
          "encoding": {
            "x": {"datum": 1.035},
            "y": {"datum": -0.025},
            "text": {"field": "t"}
          }
        }
      ]
    }
  ],
  "spacing": 60,
  "bounds": "flush",
  "resolve": {
    "scale": {"color": "independent", "strokeDash": "independent", "shape": "independent"},
    "legend": {"color": "independent", "strokeDash": "independent", "shape": "independent"}
  },
  "config": {
    "view": {"stroke": "black", "strokeWidth": 1.1},
    "axis": {
      "grid": true,
      "gridColor": "#b0b0b0",
      "gridWidth": 1.1,
      "domain": false,
      "ticks": true,
      "tickColor": "black",
      "tickWidth": 1.1,
      "tickSize": 5,
      "labelFont": "DejaVu Sans",
      "labelFontSize": 14.5,
      "labelColor": "black",
      "labelPadding": 4,
      "labelFlush": false,
      "labelOverlap": false,
      "titleFont": "Liberation Serif",
      "titleFontStyle": "italic",
      "titleFontWeight": "normal",
      "titleFontSize": 46,
      "titleColor": "black"
    },
    "legend": {
      "orient": "top-left",
      "offset": 8,
      "labelFont": "DejaVu Sans",
      "labelFontSize": 15,
      "labelColor": "black",
      "labelLimit": 400,
      "symbolSize": 256,
      "symbolStrokeWidth": 2.1,
      "symbolOffset": 1,
      "labelOffset": 20.4,
      "rowPadding": 2.4,
      "padding": 4,
      "fillColor": "rgba(255,255,255,0.8)",
      "strokeColor": "#cccccc",
      "cornerRadius": 4
    }
  }
}
